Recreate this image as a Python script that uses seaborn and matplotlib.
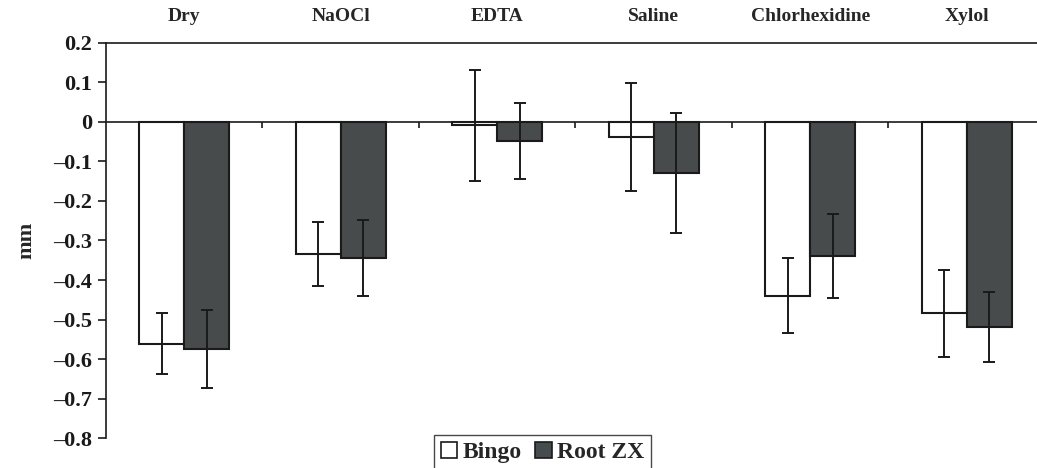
import pandas as pd
import numpy as np
import matplotlib.pyplot as plt
from matplotlib.patches import Patch
import seaborn as sns

# Values (mm)
categories = ['Dry', 'NaOCl', 'EDTA', 'Saline', 'Chlorhexidine', 'Xylol']
series = ['Bingo', 'Root ZX']
bingo_mean = [-0.561, -0.334, -0.009, -0.039, -0.440, -0.484]
bingo_err = [0.077, 0.080, 0.141, 0.137, 0.095, 0.110]
rootzx_mean = [-0.574, -0.345, -0.049, -0.130, -0.340, -0.519]
rootzx_err = [0.098, 0.096, 0.096, 0.151, 0.106, 0.088]
yticks = [0.2, 0.1, 0, -0.1, -0.2, -0.3, -0.4, -0.5, -0.6, -0.7, -0.8]

colors = {'Bingo': 'white', 'Root ZX': '#464c4d'}

df = pd.DataFrame({
    'Category': categories * 2,
    'Series': ['Bingo'] * len(categories) + ['Root ZX'] * len(categories),
    'Value': bingo_mean + rootzx_mean,
})
errs = {'Bingo': bingo_err, 'Root ZX': rootzx_err}
means = {'Bingo': bingo_mean, 'Root ZX': rootzx_mean}

sns.set_style('ticks')
plt.rcParams['font.family'] = ['Liberation Serif', 'DejaVu Serif']
plt.rcParams['font.weight'] = 'bold'
plt.rcParams['axes.labelweight'] = 'bold'

fig = plt.figure(figsize=(10.37, 4.68), dpi=100)
ax = fig.add_axes([0.1022, 0.0635, 0.8978, 0.8453])

sns.barplot(data=df, x='Category', y='Value', hue='Series', order=categories,
            hue_order=series, palette=colors, edgecolor='#1a1a1a', linewidth=1.5,
            width=0.575, errorbar=None, legend=False, ax=ax)

# Error bars at the bar centres
for cont, name in zip(ax.containers, series):
    xs = [p.get_x() + p.get_width() / 2 for p in cont]
    ax.errorbar(xs, means[name], yerr=errs[name], fmt='none', ecolor='#1a1a1a',
                elinewidth=1.4, capsize=4, capthick=1.4, zorder=5)

ax.set_ylim(-0.8, 0.2)
ax.set_xlim(-0.5, 5.449)
ax.set_yticks(yticks)
ax.set_yticklabels([f'{t:g}'.replace('-', '\u2013') for t in yticks],
                   fontsize=16, fontweight='bold')
ax.tick_params(axis='y', direction='out', length=6, width=1.2, pad=4,
               colors='#1a1a1a')
ax.set_ylabel('mm', fontsize=16, fontweight='bold', labelpad=12)
ax.set_xlabel('')

# x axis sits on zero with ticks between the groups
ax.spines['bottom'].set_position(('data', 0))
ax.spines['right'].set_visible(False)
for s in ['bottom', 'left', 'top']:
    ax.spines[s].set_linewidth(1.2)
    ax.spines[s].set_color('#1a1a1a')
ax.set_xticks([0.5, 1.5, 2.5, 3.5, 4.5])
ax.set_xticklabels([])
ax.tick_params(axis='x', direction='out', length=4, width=1.2, colors='#1a1a1a')

# Group names above the plot
top = ax.secondary_xaxis('top')
top.set_xticks(range(len(categories)))
top.set_xticklabels(categories, fontsize=14, fontweight='bold')
top.tick_params(length=0, pad=13)
top.spines['top'].set_visible(False)

handles = [Patch(facecolor=colors[s], edgecolor='#1a1a1a', linewidth=1.2, label=s)
           for s in series]
leg = fig.legend(handles=handles, loc='lower center', bbox_to_anchor=(0.523, -0.03),
                 ncol=2, frameon=True, fancybox=False, handlelength=0.7,
                 handleheight=0.7, handletextpad=0.2, columnspacing=0.6,
                 borderpad=0.3, prop={'size': 17, 'weight': 'bold'})
leg.get_frame().set_edgecolor('#1a1a1a')
leg.get_frame().set_linewidth(1.0)

plt.savefig('out.png', dpi=100)
